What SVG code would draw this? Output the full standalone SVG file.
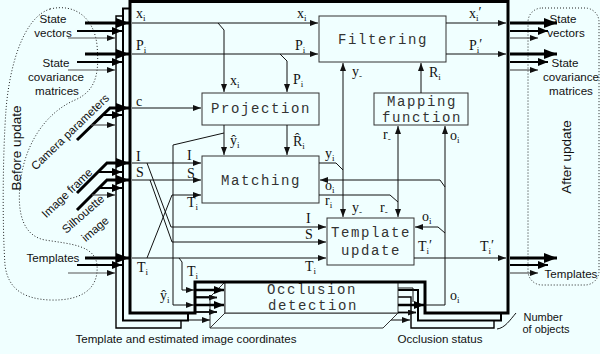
<svg xmlns="http://www.w3.org/2000/svg" width="600" height="354" viewBox="0 0 600 354">
<defs>
<style>
.ln{fill:none;stroke:#111;stroke-width:1}
.box{fill:#F0FFFF;stroke:#333;stroke-width:1}
.mono{font-family:"Liberation Mono","Courier New",monospace;font-size:14px;letter-spacing:1.6px;fill:#333}
.sym{font-family:"Liberation Serif","Times New Roman",serif;font-size:14px;fill:#111}
.lab{font-family:"Liberation Sans",Arial,sans-serif;font-size:11.6px;fill:#111}
.big{font-family:"Liberation Sans",Arial,sans-serif;font-size:13.5px;fill:#111}
.dot{fill:none;stroke:#222;stroke-width:1;stroke-dasharray:1 2}
.t3{fill:none;stroke:#000;stroke-width:3}
.t2{fill:none;stroke:#000;stroke-width:2}
.t1{fill:none;stroke:#555;stroke-width:1.2}
</style>
<marker id="ah" markerWidth="8" markerHeight="6" refX="8" refY="3" orient="auto" markerUnits="userSpaceOnUse"><path d="M0,0L8,3L0,6Z" fill="#111"/></marker>
<marker id="am" markerWidth="10" markerHeight="8" refX="10" refY="4" orient="auto" markerUnits="userSpaceOnUse"><path d="M0,0L10,4L0,8Z" fill="#000"/></marker>
<marker id="aM" markerWidth="13" markerHeight="10" refX="13" refY="5" orient="auto" markerUnits="userSpaceOnUse"><path d="M0,0L13,5L0,10Z" fill="#000"/></marker>
</defs>
<rect width="600" height="354" fill="#F0FFFF"/>

<g id="before-update">
<path class="dot" d="M50,9 C75,3 94,18 97,45 C99,70 98,90 75,100 C45,113 24,145 20,185 C17,215 24,236 45,240 C70,244 95,245 97,265 C99,290 80,301 50,300 C25,299 8,290 5,265 C2,220 3,150 6,110 C9,70 22,18 50,9 Z"/>
<text class="big" text-anchor="middle" transform="translate(16,148) rotate(-90)" y="5">Before update</text>
<text class="lab" x="53" y="23" text-anchor="middle">State</text>
<text class="lab" x="53" y="37" text-anchor="middle">vectors</text>
<text class="lab" x="56" y="67" text-anchor="middle">State</text>
<text class="lab" x="56" y="81" text-anchor="middle">covariance</text>
<text class="lab" x="57" y="95" text-anchor="middle">matrices</text>
<text class="lab" x="53" y="262" text-anchor="middle">Templates</text>
</g>
<g id="inputs-other">
<text class="lab" text-anchor="middle" transform="translate(70,132) rotate(-44)" y="4">Camera parameters</text>
<text class="lab" text-anchor="middle" transform="translate(67,193) rotate(-44)" y="4">Image frame</text>
<text class="lab" text-anchor="middle" transform="translate(83,214) rotate(-41)" y="4">Silhouette</text>
<text class="lab" text-anchor="middle" transform="translate(95,229) rotate(-41)" y="4">image</text>
</g>
<g id="after-update">
<rect class="dot" x="528" y="8" width="71" height="277" rx="14"/>
<text class="big" text-anchor="middle" transform="translate(566,157) rotate(-90)" y="5">After update</text>
<text class="lab" x="563" y="23" text-anchor="middle">State</text>
<text class="lab" x="566" y="37" text-anchor="middle">vectors</text>
<text class="lab" x="565" y="67" text-anchor="middle">State</text>
<text class="lab" x="571" y="81" text-anchor="middle">covariance</text>
<text class="lab" x="571" y="95" text-anchor="middle">matrices</text>
<text class="lab" x="571" y="278" text-anchor="middle">Templates</text>
</g>

<g id="object-stack">
<path d="M116,16H494V328H411V297H181V328H116Z" fill="#F0FFFF" stroke="#000" stroke-width="1.4"/>
<path d="M123,8.5H501V320.5H418V290H188V320.5H123Z" fill="#F0FFFF" stroke="#000" stroke-width="2"/>
</g>

<g id="occlusion">
<path class="box" d="M225,313L210,328H383L398,313Z"/>
<path class="box" d="M225,282L210,297V328L225,313Z"/>
<rect class="box" x="225" y="282" width="173" height="31"/>
<text class="mono" x="312" y="294" text-anchor="middle">Occlusion</text>
<text class="mono" x="313" y="310" text-anchor="middle">detection</text>
</g>

<g id="main-frame">
<path d="M130,1.5H508V313H425V282H195V313H130Z" fill="#F0FFFF" stroke="#000" stroke-width="3"/>
</g>

<g id="filtering">
<rect class="box" x="319" y="16" width="127" height="46"/>
<text class="mono" x="383" y="44" text-anchor="middle">Filtering</text>
</g>
<g id="projection">
<rect class="box" x="202" y="93" width="117" height="32"/>
<text class="mono" x="261" y="113" text-anchor="middle">Projection</text>
</g>
<g id="mapping">
<rect class="box" x="374" y="93" width="94" height="32"/>
<text class="mono" x="422" y="106" text-anchor="middle">Mapping</text>
<text class="mono" x="422" y="122" text-anchor="middle">function</text>
</g>
<g id="matching">
<rect class="box" x="202" y="156" width="117" height="47"/>
<text class="mono" x="261" y="185" text-anchor="middle">Matching</text>
</g>
<g id="template-update">
<rect class="box" x="327" y="218" width="87" height="47"/>
<text class="mono" x="371" y="237" text-anchor="middle">Template</text>
<text class="mono" x="371" y="255" text-anchor="middle">update</text>
</g>

<g id="connectors">
<g class="ln" marker-end="url(#ah)">
<path d="M132,23H318"/>
<path d="M218,23L224,30V92"/>
<path d="M132,54H318"/>
<path d="M280,54L287,61V92"/>
<path d="M446,23H506"/>
<path d="M446,54H506"/>
<path d="M132,108H201"/>
<path d="M224,125V155"/>
<path d="M287,125V155"/>
<path d="M224,133L173,145V305H194"/>
<path d="M132,163H201"/>
<path d="M132,180H201"/>
<path d="M147,163L171,227H326"/>
<path d="M150,180L172,242H326"/>
<path d="M132,258H326"/>
<path d="M147,258L172,195H201"/>
<path d="M179,258L182,262V290H194"/>
<path d="M343,170V63"/>
<path d="M343,170V217"/>
<path d="M421,93V63"/>
<path d="M398,202V126"/>
<path d="M398,202V217"/>
<path d="M425,305H445V126"/>
<path d="M445,187L440,180H320"/>
<path d="M445,233L438,227H415"/>
<path d="M414,258H506"/>
</g>
<path class="ln" d="M319,163H336L343,170"/>
<path class="ln" d="M319,195H390L398,202"/>
<path class="ln" d="M398,288H413V302"/>
<path d="M196,290H224" fill="none" stroke="#000" stroke-width="2.5" marker-end="url(#am)"/>
<path d="M196,305H224" fill="none" stroke="#000" stroke-width="2.5" marker-end="url(#am)"/>
<path d="M196,297.5H217" fill="none" stroke="#000" stroke-width="1.8" marker-end="url(#ah)"/>
<path d="M196,312H217" fill="none" stroke="#000" stroke-width="1.8" marker-end="url(#ah)"/>
<path d="M189,320H210" fill="none" stroke="#333" stroke-width="1.2" marker-end="url(#ah)"/>
<path d="M398,305H424" fill="none" stroke="#000" stroke-width="2.5" marker-end="url(#am)"/>
<path d="M398,312.5H416" fill="none" stroke="#000" stroke-width="1.8" marker-end="url(#ah)"/>
<path d="M391,320H410" fill="none" stroke="#333" stroke-width="1.2" marker-end="url(#ah)"/>
<path class="t3" d="M85,23H129" marker-end="url(#aM)"/>
<path class="t2" d="M77,31H122" marker-end="url(#am)"/>
<path class="t1" d="M68,38H115" marker-end="url(#ah)"/>
<path class="t3" d="M85,54H129" marker-end="url(#aM)"/>
<path class="t2" d="M77,62H122" marker-end="url(#am)"/>
<path class="t1" d="M68,70H115" marker-end="url(#ah)"/>
<path class="t3" d="M77,140L110,108H129" marker-end="url(#aM)"/>
<path class="t2" d="M103,115H122" marker-end="url(#am)"/>
<path class="t1" d="M91,125H115" marker-end="url(#ah)"/>
<path class="t3" d="M77,193L107,163H129" marker-end="url(#aM)"/>
<path class="t2" d="M98,172H122" marker-end="url(#am)"/>
<path class="t3" d="M77,210L107,180H129" marker-end="url(#aM)"/>
<path class="t2" d="M99,188H122" marker-end="url(#am)"/>
<path class="t1" d="M92,195H115" marker-end="url(#ah)"/>
<path class="t3" d="M85,258H129" marker-end="url(#aM)"/>
<path class="t2" d="M77,265H122" marker-end="url(#am)"/>
<path class="t1" d="M68,273H115" marker-end="url(#ah)"/>
<path class="t3" d="M510,23H557" marker-end="url(#aM)"/>
<path class="t2" d="M510,31H548" marker-end="url(#am)"/>
<path class="t1" d="M510,38H538" marker-end="url(#ah)"/>
<path class="t3" d="M510,54H557" marker-end="url(#aM)"/>
<path class="t2" d="M510,62H548" marker-end="url(#am)"/>
<path class="t1" d="M510,70H538" marker-end="url(#ah)"/>
<path class="t3" d="M510,258H557" marker-end="url(#aM)"/>
<path class="t2" d="M510,265H548" marker-end="url(#am)"/>
<path class="t1" d="M510,273H538" marker-end="url(#ah)"/>
<path class="ln" d="M497,329C505,328 510,320 516,313"/>
</g>

<g id="signal-labels" class="sym">
<text x="136" y="18">x<tspan font-size="9" dy="3">i</tspan></text>
<text x="136" y="50">P<tspan font-size="9" dy="3">i</tspan></text>
<text x="136" y="106">c</text>
<text x="136" y="161">I</text>
<text x="136" y="177">S</text>
<text x="137" y="272">T<tspan font-size="9" dy="3">i</tspan></text>
<text x="297" y="18">x<tspan font-size="9" dy="3">i</tspan></text>
<text x="295" y="50">P<tspan font-size="9" dy="3">i</tspan></text>
<text x="230" y="85">x<tspan font-size="9" dy="3">i</tspan></text>
<text x="293" y="84">P<tspan font-size="9" dy="3">i</tspan></text>
<text x="352" y="76">y<tspan font-size="9" dy="3">-</tspan></text>
<text x="469" y="18">x<tspan font-size="9" dy="3">i</tspan><tspan dy="-4">′</tspan></text>
<text x="469" y="50">P<tspan font-size="9" dy="3">i</tspan><tspan dy="-4">′</tspan></text>
<text x="429" y="77">R<tspan font-size="9" dy="3">i</tspan></text>
<text x="230" y="145">ŷ<tspan font-size="9" dy="3">i</tspan></text>
<text x="293" y="146">R̂<tspan font-size="9" dy="3">i</tspan></text>
<text x="187" y="160">I</text>
<text x="187" y="178">S</text>
<text x="187" y="207">T<tspan font-size="9" dy="3">i</tspan></text>
<text x="325" y="158">y<tspan font-size="9" dy="3">i</tspan></text>
<text x="325" y="190">o<tspan font-size="9" dy="3">i</tspan></text>
<text x="325" y="205">r<tspan font-size="9" dy="3">i</tspan></text>
<text x="352" y="212">y<tspan font-size="9" dy="3">-</tspan></text>
<text x="380" y="212">r<tspan font-size="9" dy="3">-</tspan></text>
<text x="383" y="139">r<tspan font-size="9" dy="3">-</tspan></text>
<text x="450" y="140">o<tspan font-size="9" dy="3">i</tspan></text>
<text x="422" y="221">o<tspan font-size="9" dy="3">i</tspan></text>
<text x="306" y="223">I</text>
<text x="305" y="239">S</text>
<text x="305" y="271">T<tspan font-size="9" dy="3">i</tspan></text>
<text x="418" y="251">T<tspan font-size="9" dy="3">i</tspan><tspan dy="-4">′</tspan></text>
<text x="480" y="251">T<tspan font-size="9" dy="3">i</tspan><tspan dy="-4">′</tspan></text>
<text x="187" y="276">T<tspan font-size="9" dy="3">i</tspan></text>
<text x="160" y="300">ŷ<tspan font-size="9" dy="3">i</tspan></text>
<text x="450" y="300">o<tspan font-size="9" dy="3">i</tspan></text>
</g>

<g id="bottom-labels" class="lab">
<text x="186" y="343" text-anchor="middle">Template and estimated image coordinates</text>
<text x="440" y="343" text-anchor="middle">Occlusion status</text>
<text x="543" y="321" text-anchor="middle" font-size="11">Number</text>
<text x="546" y="333" text-anchor="middle" font-size="11">of objects</text>
</g>
</svg>
